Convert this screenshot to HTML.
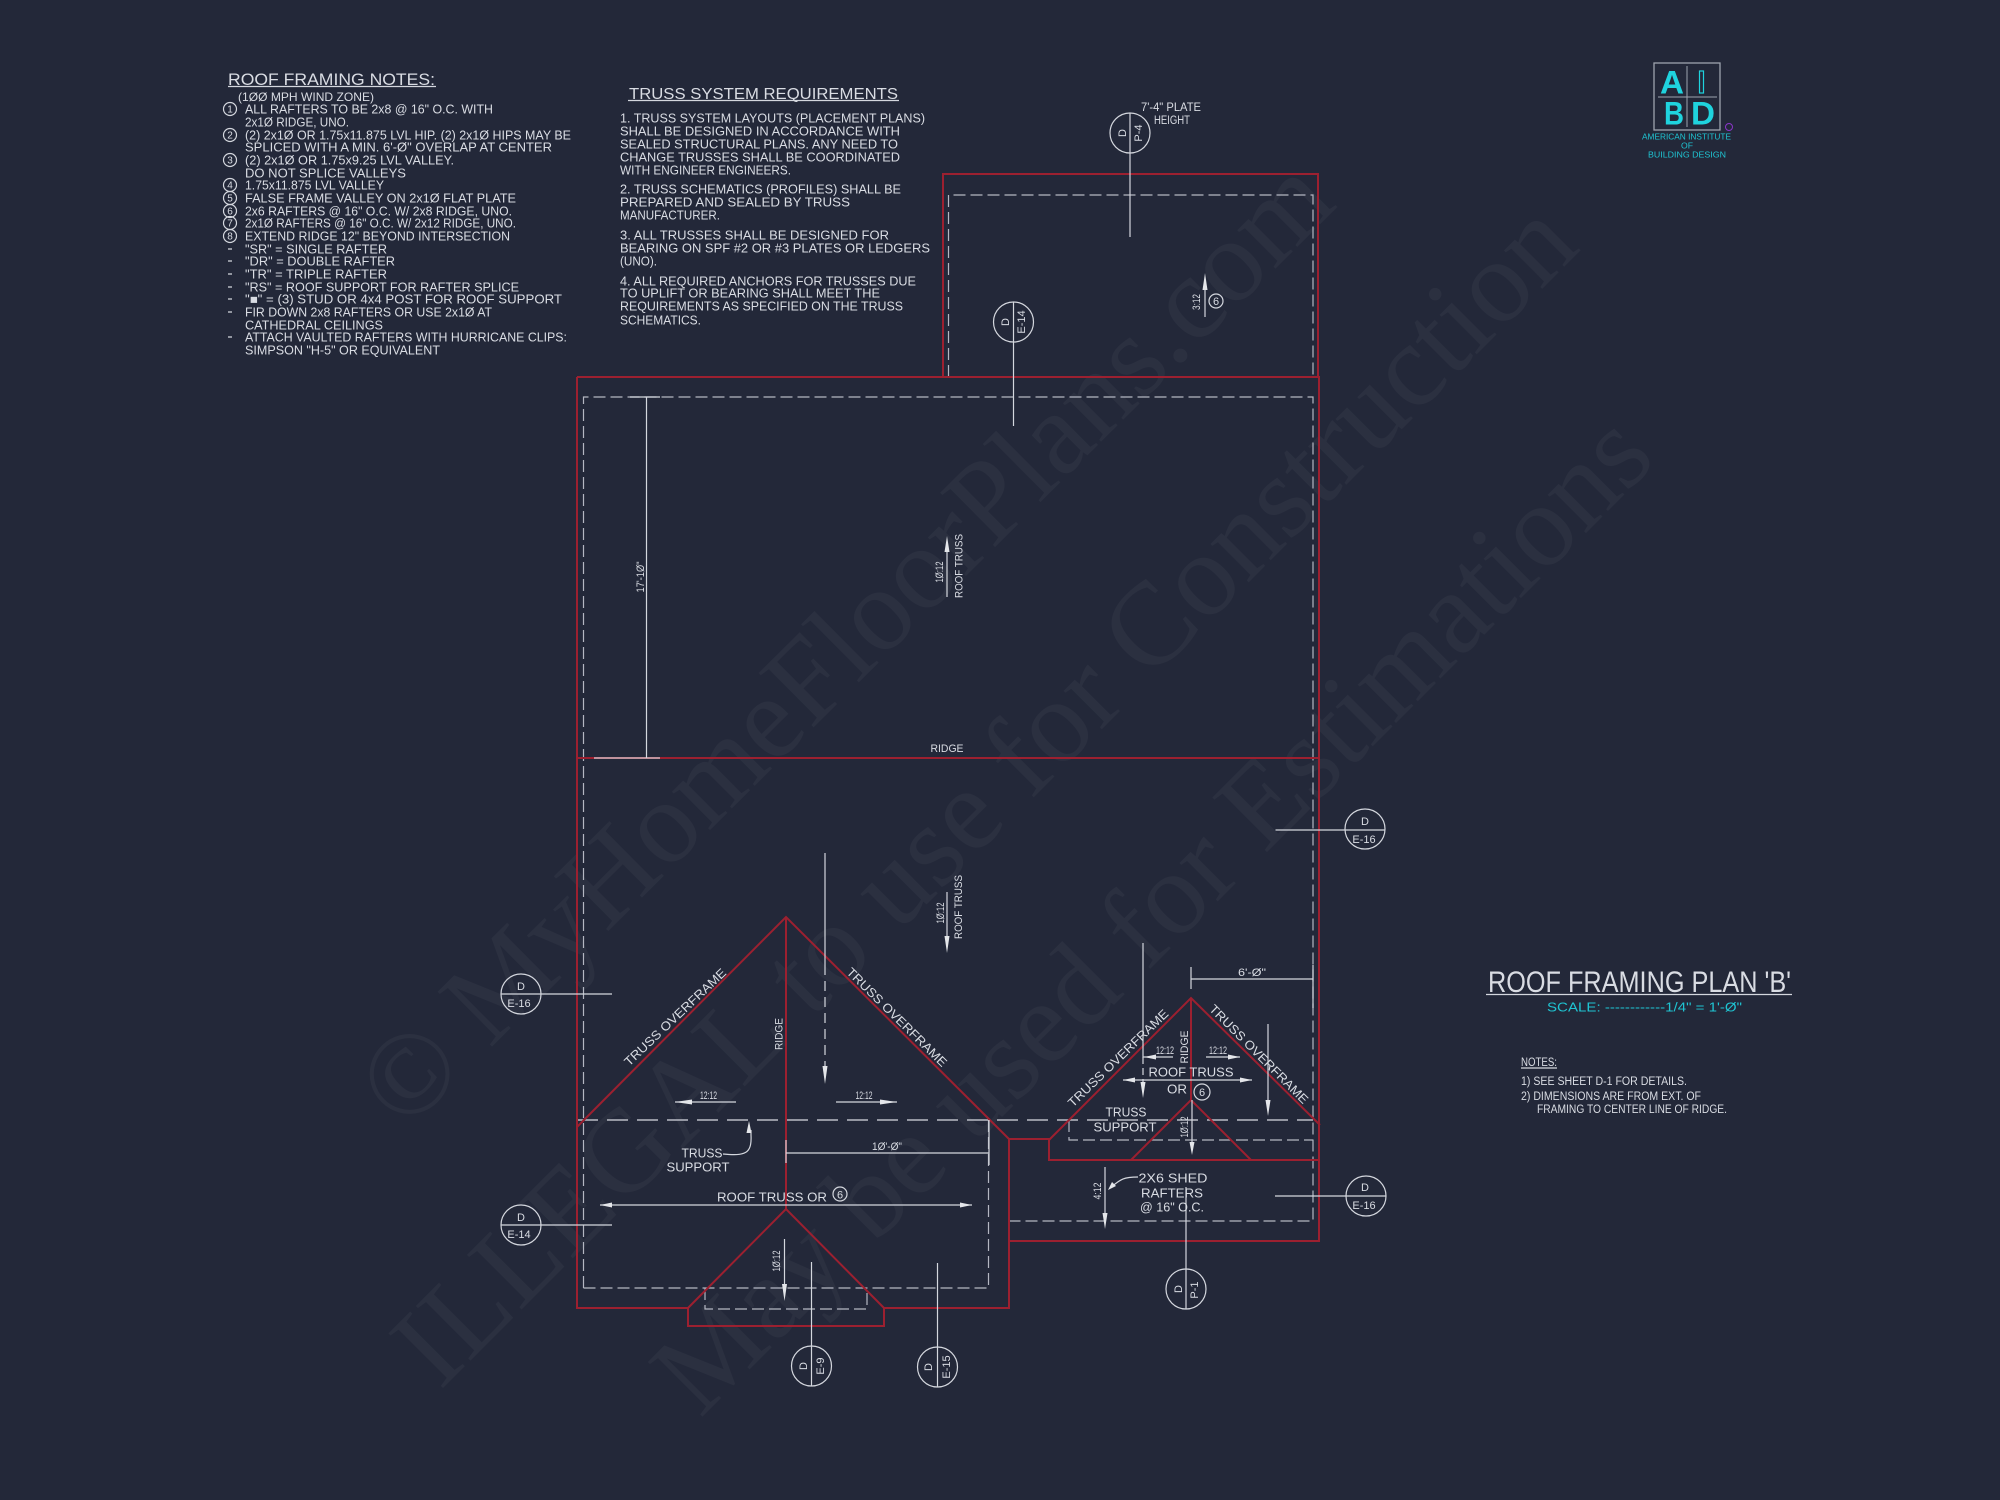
<!DOCTYPE html>
<html><head><meta charset="utf-8"><title>Roof Framing Plan B</title>
<style>
html,body{margin:0;padding:0;background:#232839;width:2000px;height:1500px;overflow:hidden}
svg{display:block;position:absolute;left:0;top:0}
text{font-family:"Liberation Sans",sans-serif;fill:#d9dce3}
.wm{font-family:"Liberation Serif",serif;font-size:118px;fill:#fff;fill-opacity:.04}
.n{font-size:12.5px}
.m{font-size:12.5px;text-anchor:middle}
.s{font-size:11px;text-anchor:middle}
.r{fill:none;stroke:#9c2030;stroke-width:2}
.w{fill:none;stroke:#d4d7de;stroke-width:1.2}
.d{fill:none;stroke:#b4b7c2;stroke-width:1.2;stroke-dasharray:12 5}
.dl{fill:none;stroke:#b9bcc6;stroke-width:1.5;stroke-dasharray:21 9}
.h{fill:#e4e6ea;stroke:none}
.c{fill:#1fd3de;font-weight:bold}
.t{fill:#1fc4d2}
</style></head><body>
<svg width="2000" height="1500" viewBox="0 0 2000 1500" xmlns="http://www.w3.org/2000/svg">
<rect width="2000" height="1500" fill="#232839"/>

<!-- watermark -->
<text class="wm" transform="translate(405,1133) rotate(-44.8)" textLength="1316">© MyHomeFloorPlans.com</text>
<text class="wm" transform="translate(440,1391) rotate(-45)" textLength="1615">ILLEGAL to use for Construction</text>
<text class="wm" transform="translate(700,1419) rotate(-45)" textLength="1355">May be used for Estimations</text>

<!-- dashed lines -->
<path class="d" d="M948.5 377V195H1313V377"/>
<path class="d" d="M583.5 1288V397H1313V1221H1009"/>
<path class="d" d="M583.5 1288H988.5V1120"/>
<path class="d" d="M705 1288V1309H867V1288"/>
<path class="d" d="M1069 1120V1140H1313"/>
<path class="dl" d="M577 1120H1313"/>

<!-- red framing -->
<path class="r" d="M943 377V174H1318V377"/>
<path class="r" d="M577 377H1319V1241H1009"/>
<path class="r" d="M577 377V1308H688V1326H884V1308H1009V1139"/>
<path class="r" d="M577 758H1319"/>
<path class="r" d="M577 1127L786 917L1009 1139M786 917V1209M688 1308L786 1209L884 1308"/>
<path class="r" d="M1009 1139H1049V1160H1319M1049 1140L1191 998L1320 1125M1191 998V1100M1131 1160L1191 1100L1251 1160"/>

<!-- section marker circles and lines -->
<g class="w">
<circle cx="1130" cy="133" r="20"/><path d="M1130 113V237"/>
<circle cx="1013.5" cy="322" r="20"/><path d="M1013.5 302V426"/>
<circle cx="1365" cy="829" r="20"/><path d="M1275.5 830H1385"/>
<circle cx="1366" cy="1196" r="20"/><path d="M1275 1196H1386"/>
<circle cx="521" cy="994" r="20"/><path d="M501 994H612"/>
<circle cx="521" cy="1225" r="20"/><path d="M501 1225H612"/>
<circle cx="1186" cy="1289" r="20"/><path d="M1186 1187V1309"/>
<circle cx="811.5" cy="1366" r="20"/><path d="M811.5 1262V1386"/>
<circle cx="937.5" cy="1367" r="20"/><path d="M937.5 1263V1387"/>
<!-- dims and arrows -->
<path d="M1205 317V280"/><circle cx="1216" cy="301" r="7"/>
<path d="M646.5 397V758M630 397H660M594 758H660"/>
<path d="M947 597V545"/>
<path d="M947 892V945"/>
<path d="M825 853V965"/>
<path d="M825 965V1072" stroke-dasharray="10 6"/>
<path d="M675 1102H736M836 1102H897"/>
<path d="M786 1153H989M786 1140V1163M989 1120V1165"/>
<path d="M600 1205H972"/><circle cx="840" cy="1194" r="7"/>
<path d="M784.5 1239V1292"/>
<path d="M723 1154C745 1156 752 1154 751 1135V1130"/>
<path d="M1191 979H1313M1191 967V989M1313 965V1008"/>
<path d="M1143 943V1057H1173M1206 1057H1240"/>
<path d="M1143 1057V1085" stroke-dasharray="7 4"/>
<path d="M1123 1080H1252"/><circle cx="1202" cy="1092" r="8"/>
<path d="M1268 1024V1108"/><path d="M1192 1100V1147"/>
<path d="M1105 1167V1220"/>
<path d="M1138 1177C1122 1177 1120 1180 1110 1188"/>
</g>
<g class="h">
<path d="M1205 273L1202.5 290H1207.5Z"/>
<path d="M947 536L944.5 552H949.5Z"/>
<path d="M947 953L944.5 936H949.5Z"/>
<path d="M825 1084L822.5 1066H827.5Z"/>
<path d="M675 1102L692 1099.5V1104.5Z"/>
<path d="M897 1102L880 1099.5V1104.5Z"/>
<path d="M600 1205L612 1202.5V1207.5Z"/>
<path d="M972 1205L960 1202.5V1207.5Z"/>
<path d="M784.5 1301L782 1284H787Z"/>
<path d="M749 1121L746.500 1133H751.500Z"/>
<path d="M1143 1098L1140.5 1082H1145.5Z"/>
<path d="M1144 1057L1156 1054.500V1059.500Z"/>
<path d="M1240 1057L1228 1054.500V1059.500Z"/>
<path d="M1123 1080L1135 1077.500V1082.500Z"/>
<path d="M1252 1080L1240 1077.500V1082.500Z"/>
<path d="M1268 1116L1265.500 1100H1270.500Z"/>
<path d="M1192 1155L1189.500 1142H1194.500Z"/>
<path d="M1105 1229L1102.500 1213H1107.500Z"/>
<path d="M1108 1190L1112 1182L1116 1186Z"/>
</g>

<!-- marker labels -->
<text class="s" transform="translate(1122,133) rotate(-90)" dy="4">D</text>
<text class="s" transform="translate(1138,133) rotate(-90)" dy="4">P-4</text>
<text class="s" transform="translate(1005,322) rotate(-90)" dy="4">D</text>
<text class="s" transform="translate(1021,322) rotate(-90)" dy="4">E-14</text>
<text class="s" x="1365" y="825">D</text><text class="s" x="1364" y="843">E-16</text>
<text class="s" x="1365" y="1191">D</text><text class="s" x="1364" y="1209">E-16</text>
<text class="s" x="521" y="990">D</text><text class="s" x="519" y="1007">E-16</text>
<text class="s" x="521" y="1221">D</text><text class="s" x="519" y="1238">E-14</text>
<text class="s" transform="translate(1178,1289) rotate(-90)" dy="4">D</text>
<text class="s" transform="translate(1194,1290) rotate(-90)" dy="4">P-1</text>
<text class="s" transform="translate(803,1366) rotate(-90)" dy="4">D</text>
<text class="s" transform="translate(820,1366) rotate(-90)" dy="4">E-9</text>
<text class="s" transform="translate(928,1367) rotate(-90)" dy="4">D</text>
<text class="s" transform="translate(946,1367) rotate(-90)" dy="4">E-15</text>

<!-- plan labels -->
<text x="1141" y="111" class="n" style="font-size:11.5px" textLength="60" lengthAdjust="spacingAndGlyphs">7'-4" PLATE</text>
<text x="1154" y="124" class="n" style="font-size:11.5px" textLength="36" lengthAdjust="spacingAndGlyphs">HEIGHT</text>
<text class="s" transform="translate(1196,302) rotate(-90)" dy="4" textLength="16" lengthAdjust="spacingAndGlyphs">3:12</text>
<text class="s" x="1216" y="305">6</text>
<text class="s" transform="translate(640,577) rotate(-90)" dy="4" textLength="31" lengthAdjust="spacingAndGlyphs">17'-1Ø"</text>
<text class="s" transform="translate(939,572) rotate(-90)" dy="4" textLength="21" lengthAdjust="spacingAndGlyphs">1Ø:12</text>
<text class="s" transform="translate(958.5,566) rotate(-90)" dy="4" textLength="64" lengthAdjust="spacingAndGlyphs">ROOF TRUSS</text>
<text class="s" x="947" y="752" textLength="33" lengthAdjust="spacingAndGlyphs">RIDGE</text>
<text class="s" transform="translate(940,913) rotate(-90)" dy="4" textLength="21" lengthAdjust="spacingAndGlyphs">1Ø:12</text>
<text class="s" transform="translate(958,907) rotate(-90)" dy="4" textLength="64" lengthAdjust="spacingAndGlyphs">ROOF TRUSS</text>
<text class="n m" transform="translate(675,1017) rotate(-43.5)" dy="4.5" textLength="135" lengthAdjust="spacingAndGlyphs">TRUSS OVERFRAME</text>
<text class="n m" transform="translate(897,1017) rotate(44.5)" dy="4.5" textLength="135" lengthAdjust="spacingAndGlyphs">TRUSS OVERFRAME</text>
<text class="s" transform="translate(778.5,1034) rotate(-90)" dy="4" textLength="32" lengthAdjust="spacingAndGlyphs">RIDGE</text>
<text class="s" x="708.5" y="1099" textLength="17" lengthAdjust="spacingAndGlyphs">12:12</text>
<text class="s" x="864" y="1099" textLength="17" lengthAdjust="spacingAndGlyphs">12:12</text>
<text class="m" x="702" y="1157.5" textLength="41" lengthAdjust="spacingAndGlyphs">TRUSS</text>
<text class="m" x="698" y="1171.5" textLength="63" lengthAdjust="spacingAndGlyphs">SUPPORT</text>
<text class="s" x="887" y="1150" textLength="30" lengthAdjust="spacingAndGlyphs">1Ø'-Ø"</text>
<text class="m" x="772" y="1201.5" textLength="110" lengthAdjust="spacingAndGlyphs">ROOF TRUSS OR</text>
<text class="s" x="840" y="1198.5">6</text>
<text class="s" transform="translate(776,1261) rotate(-90)" dy="4" textLength="21" lengthAdjust="spacingAndGlyphs">1Ø:12</text>
<text class="s" x="1252" y="976" textLength="28" lengthAdjust="spacingAndGlyphs">6'-Ø"</text>
<text class="n m" transform="translate(1118,1058) rotate(-44)" dy="4.5" textLength="134" lengthAdjust="spacingAndGlyphs">TRUSS OVERFRAME</text>
<text class="n m" transform="translate(1259,1054) rotate(45)" dy="4.5" textLength="134" lengthAdjust="spacingAndGlyphs">TRUSS OVERFRAME</text>
<text class="s" x="1165" y="1054" textLength="18" lengthAdjust="spacingAndGlyphs">12:12</text>
<text class="s" x="1218" y="1054" textLength="18" lengthAdjust="spacingAndGlyphs">12:12</text>
<text class="s" transform="translate(1184,1047) rotate(-90)" dy="4" textLength="33" lengthAdjust="spacingAndGlyphs">RIDGE</text>
<text class="m" x="1191" y="1076.5" textLength="85" lengthAdjust="spacingAndGlyphs">ROOF TRUSS</text>
<text class="m" x="1177" y="1093.5" textLength="20" lengthAdjust="spacingAndGlyphs">OR</text>
<text class="s" x="1202" y="1096">6</text>
<text class="m" x="1126" y="1116.5" textLength="41" lengthAdjust="spacingAndGlyphs">TRUSS</text>
<text class="m" x="1125" y="1131.5" textLength="63" lengthAdjust="spacingAndGlyphs">SUPPORT</text>
<text class="s" transform="translate(1184,1127) rotate(-90)" dy="4" textLength="21" lengthAdjust="spacingAndGlyphs">1Ø:12</text>
<text class="m" x="1173" y="1182.5" textLength="69" lengthAdjust="spacingAndGlyphs">2X6 SHED</text>
<text class="m" x="1172" y="1197.5" textLength="62" lengthAdjust="spacingAndGlyphs">RAFTERS</text>
<text class="m" x="1172" y="1211.5" textLength="64" lengthAdjust="spacingAndGlyphs">@ 16" O.C.</text>
<text class="s" transform="translate(1097,1191) rotate(-90)" dy="4" textLength="17" lengthAdjust="spacingAndGlyphs">4:12</text>

<!-- roof framing notes -->
<text x="228" y="85" style="font-size:17px" textLength="207" lengthAdjust="spacingAndGlyphs">ROOF FRAMING NOTES:</text>
<path class="w" d="M228 86.5H436"/>
<text class="n" x="238" y="101" textLength="136" lengthAdjust="spacingAndGlyphs" style="font-size:12px">(1ØØ MPH WIND ZONE)</text>
<g class="w">
<circle cx="230" cy="109" r="6.5"/><circle cx="230" cy="135" r="6.5"/><circle cx="230" cy="160" r="6.5"/><circle cx="230" cy="185" r="6.5"/><circle cx="230" cy="198" r="6.5"/><circle cx="230" cy="211" r="6.5"/><circle cx="230" cy="223" r="6.5"/><circle cx="230" cy="236" r="6.5"/>
<path d="M228 249H232M228 261H232M228 274H232M228 287H232M228 299H232M228 312H232M228 337H232"/>
</g>
<text class="s" style="font-size:10px" x="230" y="112.5">1</text><text class="s" style="font-size:10px" x="230" y="138.5">2</text><text class="s" style="font-size:10px" x="230" y="163.5">3</text><text class="s" style="font-size:10px" x="230" y="188.5">4</text><text class="s" style="font-size:10px" x="230" y="201.5">5</text><text class="s" style="font-size:10px" x="230" y="214.5">6</text><text class="s" style="font-size:10px" x="230" y="226.5">7</text><text class="s" style="font-size:10px" x="230" y="239.5">8</text>
<text class="n" x="245" y="113.5" textLength="248" lengthAdjust="spacingAndGlyphs">ALL RAFTERS TO BE 2x8 @ 16" O.C. WITH</text>
<text class="n" x="245" y="126.5" textLength="104" lengthAdjust="spacingAndGlyphs">2x1Ø RIDGE, UNO.</text>
<text class="n" x="245" y="139.5" textLength="326" lengthAdjust="spacingAndGlyphs">(2) 2x1Ø OR 1.75x11.875 LVL HIP. (2) 2x1Ø HIPS MAY BE</text>
<text class="n" x="245" y="151.5" textLength="307" lengthAdjust="spacingAndGlyphs">SPLICED WITH A MIN. 6'-Ø" OVERLAP AT CENTER</text>
<text class="n" x="245" y="164.5" textLength="209" lengthAdjust="spacingAndGlyphs">(2) 2x1Ø OR 1.75x9.25 LVL VALLEY.</text>
<text class="n" x="245" y="177.5" textLength="161" lengthAdjust="spacingAndGlyphs">DO NOT SPLICE VALLEYS</text>
<text class="n" x="245" y="189.5" textLength="139" lengthAdjust="spacingAndGlyphs">1.75x11.875 LVL VALLEY</text>
<text class="n" x="245" y="202.5" textLength="271" lengthAdjust="spacingAndGlyphs">FALSE FRAME VALLEY ON 2x1Ø FLAT PLATE</text>
<text class="n" x="245" y="215.5" textLength="267" lengthAdjust="spacingAndGlyphs">2x6 RAFTERS @ 16" O.C. W/ 2x8 RIDGE, UNO.</text>
<text class="n" x="245" y="227.5" textLength="271" lengthAdjust="spacingAndGlyphs">2x1Ø RAFTERS @ 16" O.C. W/ 2x12 RIDGE, UNO.</text>
<text class="n" x="245" y="240.5" textLength="265" lengthAdjust="spacingAndGlyphs">EXTEND RIDGE 12" BEYOND INTERSECTION</text>
<text class="n" x="245" y="253.5" textLength="142" lengthAdjust="spacingAndGlyphs">"SR" = SINGLE RAFTER</text>
<text class="n" x="245" y="265.5" textLength="150" lengthAdjust="spacingAndGlyphs">"DR" = DOUBLE RAFTER</text>
<text class="n" x="245" y="278.5" textLength="142" lengthAdjust="spacingAndGlyphs">"TR" = TRIPLE RAFTER</text>
<text class="n" x="245" y="291.5" textLength="274" lengthAdjust="spacingAndGlyphs">"RS" = ROOF SUPPORT FOR RAFTER SPLICE</text>
<text class="n" x="245" y="303.5" textLength="317" lengthAdjust="spacingAndGlyphs">"■"  = (3) STUD OR 4x4 POST FOR ROOF SUPPORT</text>
<text class="n" x="245" y="316.5" textLength="247" lengthAdjust="spacingAndGlyphs">FIR DOWN 2x8 RAFTERS OR USE 2x1Ø AT</text>
<text class="n" x="245" y="329.5" textLength="138" lengthAdjust="spacingAndGlyphs">CATHEDRAL CEILINGS</text>
<text class="n" x="245" y="341.5" textLength="322" lengthAdjust="spacingAndGlyphs">ATTACH VAULTED RAFTERS WITH HURRICANE CLIPS:</text>
<text class="n" x="245" y="354.5" textLength="195" lengthAdjust="spacingAndGlyphs">SIMPSON "H-5" OR EQUIVALENT</text>

<!-- truss notes -->
<text x="629" y="99" style="font-size:16px" textLength="269" lengthAdjust="spacingAndGlyphs">TRUSS SYSTEM REQUIREMENTS</text>
<path class="w" d="M628 100.5H899"/>
<text class="n" x="620" y="122.5" textLength="305" lengthAdjust="spacingAndGlyphs">1. TRUSS SYSTEM LAYOUTS (PLACEMENT PLANS)</text>
<text class="n" x="620" y="135.5" textLength="280" lengthAdjust="spacingAndGlyphs">SHALL BE DESIGNED IN ACCORDANCE WITH</text>
<text class="n" x="620" y="148.5" textLength="278" lengthAdjust="spacingAndGlyphs">SEALED STRUCTURAL PLANS. ANY NEED TO</text>
<text class="n" x="620" y="161.5" textLength="280" lengthAdjust="spacingAndGlyphs">CHANGE TRUSSES SHALL BE COORDINATED</text>
<text class="n" x="620" y="174.5" textLength="171" lengthAdjust="spacingAndGlyphs">WITH ENGINEER ENGINEERS.</text>
<text class="n" x="620" y="193.5" textLength="281" lengthAdjust="spacingAndGlyphs">2. TRUSS SCHEMATICS (PROFILES) SHALL BE</text>
<text class="n" x="620" y="206.5" textLength="230" lengthAdjust="spacingAndGlyphs">PREPARED AND SEALED BY TRUSS</text>
<text class="n" x="620" y="219.5" textLength="100" lengthAdjust="spacingAndGlyphs">MANUFACTURER.</text>
<text class="n" x="620" y="239.5" textLength="269" lengthAdjust="spacingAndGlyphs">3. ALL TRUSSES SHALL BE DESIGNED FOR</text>
<text class="n" x="620" y="252.5" textLength="310" lengthAdjust="spacingAndGlyphs">BEARING ON SPF #2 OR #3 PLATES OR LEDGERS</text>
<text class="n" x="620" y="265.5" textLength="37" lengthAdjust="spacingAndGlyphs">(UNO).</text>
<text class="n" x="620" y="285.5" textLength="296" lengthAdjust="spacingAndGlyphs">4. ALL REQUIRED ANCHORS FOR TRUSSES DUE</text>
<text class="n" x="620" y="297.5" textLength="260" lengthAdjust="spacingAndGlyphs">TO UPLIFT OR BEARING SHALL MEET THE</text>
<text class="n" x="620" y="310.5" textLength="283" lengthAdjust="spacingAndGlyphs">REQUIREMENTS AS SPECIFIED ON THE TRUSS</text>
<text class="n" x="620" y="324.5" textLength="81" lengthAdjust="spacingAndGlyphs">SCHEMATICS.</text>

<!-- logo -->
<rect x="1654" y="63" width="66" height="67" fill="none" stroke="#9ea3ae" stroke-width="1.3"/>
<path d="M1687 66V127M1658 97H1717" fill="none" stroke="#9ea3ae" stroke-width="1"/>
<text class="c" x="1672" y="93.5" style="font-size:32px" text-anchor="middle" textLength="24" lengthAdjust="spacingAndGlyphs">A</text>
<rect x="1699.5" y="71" width="4" height="22" fill="none" stroke="#1fd3de" stroke-width="1.2"/>
<text class="c" x="1674" y="124.5" style="font-size:32px" text-anchor="middle" textLength="20" lengthAdjust="spacingAndGlyphs">B</text>
<text class="c" x="1703" y="124.5" style="font-size:32px" text-anchor="middle" textLength="24" lengthAdjust="spacingAndGlyphs">D</text>
<circle cx="1729" cy="127" r="3.5" fill="none" stroke="#8a35c9" stroke-width="1"/>
<text class="t" x="1686.5" y="139.5" style="font-size:8.5px" text-anchor="middle" textLength="89" lengthAdjust="spacingAndGlyphs">AMERICAN INSTITUTE</text>
<text class="t" x="1687" y="148.5" style="font-size:8.5px" text-anchor="middle" textLength="12" lengthAdjust="spacingAndGlyphs">OF</text>
<text class="t" x="1687" y="157.5" style="font-size:8.5px" text-anchor="middle" textLength="78" lengthAdjust="spacingAndGlyphs">BUILDING DESIGN</text>

<!-- plan title -->
<text x="1488" y="992" style="font-size:30px" textLength="303" lengthAdjust="spacingAndGlyphs">ROOF FRAMING PLAN 'B'</text>
<path d="M1486 994.5H1792" fill="none" stroke="#d4d7de" stroke-width="1.3"/>
<text class="t" x="1547" y="1011.5" style="font-size:13px" textLength="195" lengthAdjust="spacingAndGlyphs">SCALE: ------------1/4" = 1'-Ø"</text>
<text x="1521" y="1066" style="font-size:11.5px" textLength="36" lengthAdjust="spacingAndGlyphs">NOTES:</text>
<path class="w" d="M1521 1068H1557"/>
<text x="1521" y="1085" style="font-size:11.5px" textLength="166" lengthAdjust="spacingAndGlyphs">1)  SEE SHEET D-1 FOR DETAILS.</text>
<text x="1521" y="1100" style="font-size:11.5px" textLength="180" lengthAdjust="spacingAndGlyphs">2)  DIMENSIONS ARE FROM EXT. OF</text>
<text x="1537" y="1113" style="font-size:11.5px" textLength="190" lengthAdjust="spacingAndGlyphs">FRAMING TO CENTER LINE OF RIDGE.</text>
</svg>
</body></html>
